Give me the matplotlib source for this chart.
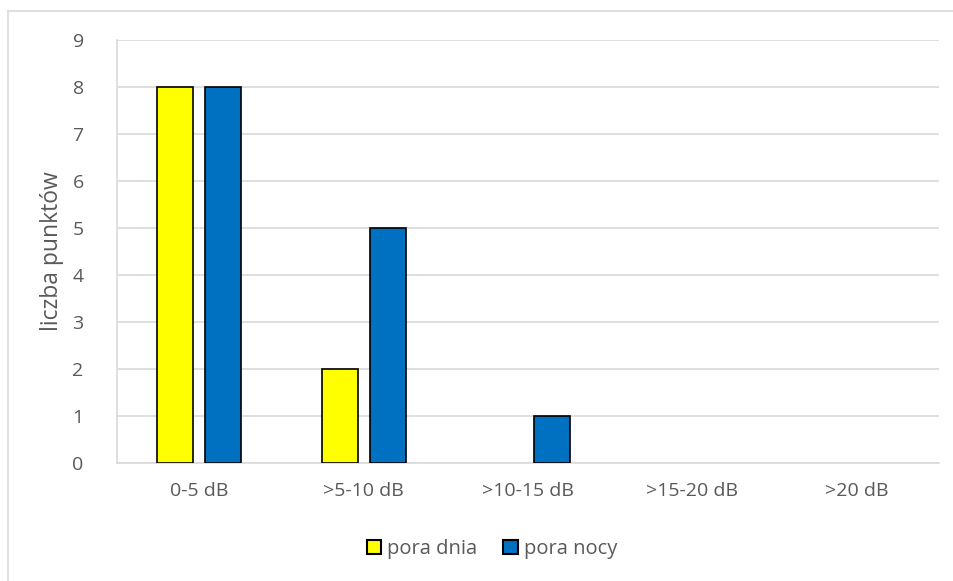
import numpy as np
import matplotlib
matplotlib.use("Agg")
import matplotlib.pyplot as plt
from matplotlib.lines import Line2D

categories = ["0-5 dB", ">5-10 dB", ">10-15 dB", ">15-20 dB", ">20 dB"]
day_counts = [8, 2, 0, 0, 0]
night_counts = [8, 5, 1, 0, 0]
series_names = ["pora dnia", "pora nocy"]

plt.rcParams['font.family'] = ['Open Sans', 'DejaVu Sans']

W, H = 954, 581
fig = plt.figure(figsize=(W / 100, H / 100), dpi=100)
ax = fig.add_axes([117 / W, (H - 463) / H, (939 - 117) / W, (463 - 40) / H])

x = np.arange(len(categories))
bw = 0.22
off = 0.146
# zero-height bars would show as a black line, so hide their edges
day_edges = ["black" if v > 0 else "none" for v in day_counts]
night_edges = ["black" if v > 0 else "none" for v in night_counts]
ax.bar(x - off, day_counts, bw, color="#FFFF00", edgecolor=day_edges, linewidth=1.2,
       label=series_names[0], zorder=3)
ax.bar(x + off, night_counts, bw, color="#0070C0", edgecolor=night_edges, linewidth=1.2,
       label=series_names[1], zorder=3)

ax.set_xlim(-0.5, len(categories) - 0.5)
ax.set_ylim(0, 9)
ax.set_yticks(range(10))
ax.yaxis.grid(True, color="#D9D9D9", linewidth=1.2, zorder=0)
ax.set_xticks(x)
ax.set_xticklabels(categories)
ax.tick_params(axis="both", length=0, labelsize=14, colors="#595959", pad=14)
ax.tick_params(axis="y", pad=24)
for s in ["top", "right"]:
    ax.spines[s].set_visible(False)
ax.spines["left"].set_color("#D9D9D9")
ax.spines["bottom"].set_color("#D9D9D9")
ax.spines["left"].set_linewidth(1.2)
ax.spines["bottom"].set_linewidth(1.2)

ax.set_ylabel("liczba punktów", fontsize=16.5, color="#595959", labelpad=6)

handles = [plt.Rectangle((0, 0), 1, 1, facecolor="#FFFF00", edgecolor="black", linewidth=1.5),
           plt.Rectangle((0, 0), 1, 1, facecolor="#0070C0", edgecolor="black", linewidth=1.5)]
leg = fig.legend(handles, series_names, loc="center",
                 bbox_to_anchor=(492 / W, (H - 549) / H), ncol=2,
                 frameon=False, fontsize=14.5, handlelength=0.7, handleheight=0.7,
                 handletextpad=0.3, columnspacing=1.3)
for t in leg.get_texts():
    t.set_color("#595959")

# outer chart frame (only left and top visible in the crop)
fig.add_artist(Line2D([8.5 / W, 8.5 / W], [0, (H - 10.5) / H], color="#D9D9D9",
                      linewidth=1.2, transform=fig.transFigure))
fig.add_artist(Line2D([8.5 / W, 1], [(H - 10.5) / H, (H - 10.5) / H], color="#D9D9D9",
                      linewidth=1.2, transform=fig.transFigure))

fig.savefig("out.png", dpi=100, facecolor="white")
